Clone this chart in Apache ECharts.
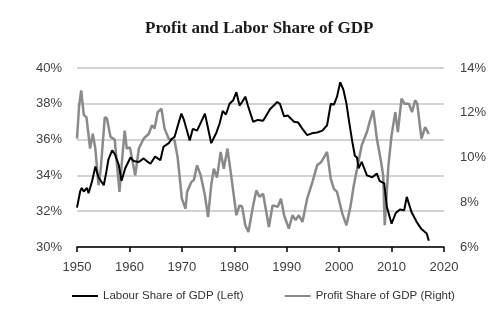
<!DOCTYPE html>
<html><head><meta charset="utf-8">
<script src="https://cdn.jsdelivr.net/npm/echarts@6/dist/echarts.min.js"></script>
<style>html,body{margin:0;padding:0;background:#fff}#c{width:500px;height:325px}</style>
</head><body><div id="c"></div>
<script>
const titleText = "Profit and Labor Share of GDP";
const laborName = "Labour Share of GDP (Left)";
const profitName = "Profit Share of GDP (Right)";
const leftTicks = [30, 32, 34, 36, 38, 40];
const rightTicks = [6, 8, 10, 12, 14];
const xTicks = [1950, 1960, 1970, 1980, 1990, 2000, 2010, 2020];

const laborYears = [1950.0,1950.6,1950.9,1951.3,1951.9,1952.2,1952.9,1953.5,1954.1,1955.1,1955.6,1956.0,1956.7,1957.2,1957.95,1958.5,1959.2,1960.2,1960.8,1961.8,1962.7,1963.3,1964.0,1964.9,1965.9,1966.5,1967.5,1968.1,1968.6,1969.9,1970.4,1971.5,1972.1,1972.9,1973.7,1974.4,1974.8,1975.6,1976.6,1977.2,1977.8,1978.4,1979.1,1979.8,1980.4,1981.0,1981.5,1982.1,1982.6,1983.6,1984.5,1985.5,1986.1,1986.8,1988.2,1988.7,1989.5,1990.2,1991.4,1992.2,1993.0,1993.9,1994.8,1995.8,1996.8,1997.7,1998.4,1999.0,1999.6,2000.2,2000.8,2001.4,2001.9,2002.5,2003.0,2003.4,2003.7,2004.3,2005.3,2006.3,2007.2,2007.7,2008.6,2009.1,2010.0,2010.8,2011.6,2012.4,2012.9,2013.8,2014.8,2015.7,2016.7,2017.1];
const laborValues = [32.2,33.1,33.3,33.1,33.3,33.0,33.7,34.5,33.9,33.45,34.2,34.9,35.4,35.2,34.6,33.7,34.4,35.0,34.8,34.75,34.95,34.8,34.65,35.05,34.85,35.6,35.8,36.05,36.15,37.45,37.1,35.95,36.6,36.5,37.0,37.45,36.9,35.8,36.4,36.9,37.6,37.4,38.0,38.2,38.65,37.9,38.1,38.4,37.9,37.0,37.1,37.05,37.35,37.7,38.1,38.0,37.3,37.35,37.0,36.95,36.6,36.25,36.35,36.4,36.5,36.8,38.0,37.95,38.4,39.2,38.8,38.0,37.0,35.9,35.1,35.0,34.4,34.75,34.0,33.9,34.1,33.7,33.55,32.25,31.3,31.9,32.1,32.05,32.8,31.95,31.4,31.0,30.75,30.35];

const profitYears = [1950.0,1950.4,1950.8,1951.3,1951.8,1952.5,1953.0,1953.5,1954.1,1954.5,1955.3,1955.7,1956.4,1957.2,1958.1,1958.6,1959.1,1959.5,1960.1,1961.1,1961.8,1962.7,1963.7,1964.3,1964.8,1965.4,1966.1,1966.7,1967.5,1968.6,1969.2,1970.0,1970.7,1971.0,1971.8,1972.3,1972.9,1973.6,1974.4,1975.0,1975.6,1976.1,1976.7,1977.4,1978.0,1978.7,1979.4,1980.4,1981.0,1981.5,1982.1,1982.7,1983.6,1984.2,1984.8,1985.5,1986.6,1987.3,1988.3,1988.9,1989.5,1990.4,1991.1,1991.7,1992.3,1993.0,1993.9,1994.9,1995.8,1996.6,1997.7,1998.4,1999.0,1999.6,2000.6,2001.4,2002.2,2002.8,2003.8,2004.3,2005.3,2005.9,2006.5,2007.2,2008.0,2008.4,2008.7,2009.4,2010.0,2010.7,2011.2,2011.9,2012.5,2013.3,2013.9,2014.5,2014.9,2015.7,2016.4,2017.1];
const profitValues = [10.84,12.3,13.0,11.9,11.8,10.4,11.06,10.4,8.76,9.4,11.8,11.75,10.92,10.8,8.46,9.9,11.2,10.4,10.45,9.2,10.4,10.84,11.06,11.44,11.3,12.03,12.18,11.29,10.84,10.77,10.0,8.16,7.71,8.46,8.9,9.0,9.65,9.2,8.31,7.34,8.76,9.5,9.1,10.25,9.5,10.4,9.2,7.42,7.86,7.8,6.97,6.67,7.86,8.53,8.25,8.38,6.89,7.86,7.8,8.16,7.42,6.82,7.42,7.2,7.42,7.12,8.16,8.9,9.65,9.8,10.25,9.05,8.6,8.46,7.49,6.97,7.86,8.76,9.95,10.54,11.14,11.66,12.11,10.84,9.8,9.2,6.97,9.65,10.99,12.03,11.14,12.63,12.4,12.4,12.03,12.56,12.4,10.84,11.36,11.06];

const laborData = laborYears.map((y, i) => [y, laborValues[i]]);
const profitData = profitYears.map((y, i) => [y, profitValues[i]]);

const chart = echarts.init(document.getElementById('c'), null, {renderer: 'canvas'});
const labelFont = {fontFamily: 'Liberation Sans', fontSize: 13, color: '#404040'};
chart.setOption({
  animation: false,
  backgroundColor: '#fff',
  title: {
    text: titleText, left: 140, top: 15,
    textStyle: {fontFamily: 'Liberation Serif', fontWeight: 'bold', fontSize: 17, color: '#1a1a1a'}
  },
  legend: {
    left: 67, top: 285, itemGap: 41, itemWidth: 26, itemHeight: 2, icon: 'rect',
    textStyle: {fontFamily: 'Liberation Sans', fontSize: 11.5, color: '#333'},
    data: [laborName, profitName]
  },
  grid: {left: 77, right: 56, top: 68, bottom: 78},
  xAxis: {
    type: 'value', min: xTicks[0], max: xTicks[xTicks.length - 1], interval: 10,
    axisLine: {lineStyle: {color: '#000', width: 1.5}},
    axisTick: {show: true, inside: false, length: 5, lineStyle: {color: '#000', width: 1.5}},
    axisLabel: Object.assign({margin: 14, formatter: v => String(v)}, labelFont),
    splitLine: {show: false}
  },
  yAxis: [{
    type: 'value', min: leftTicks[0], max: leftTicks[leftTicks.length - 1], interval: 2,
    axisLine: {show: false}, axisTick: {show: false},
    axisLabel: Object.assign({margin: 15, formatter: '{value}%'}, labelFont),
    splitLine: {lineStyle: {color: '#c4c4c4', width: 1.5}}
  }, {
    type: 'value', min: rightTicks[0], max: rightTicks[rightTicks.length - 1], interval: 2,
    position: 'right',
    axisLine: {show: false}, axisTick: {show: false},
    axisLabel: Object.assign({margin: 16, formatter: '{value}%'}, labelFont),
    splitLine: {show: false}
  }],
  series: [{
    name: laborName, type: 'line', yAxisIndex: 0, data: laborData,
    showSymbol: false, symbol: 'none', z: 3,
    lineStyle: {color: '#000', width: 2}, itemStyle: {color: '#000'}
  }, {
    name: profitName, type: 'line', yAxisIndex: 1, data: profitData,
    showSymbol: false, symbol: 'none', z: 2,
    lineStyle: {color: '#8a8a8a', width: 2.5}, itemStyle: {color: '#8a8a8a'}
  }]
});
</script></body></html>
